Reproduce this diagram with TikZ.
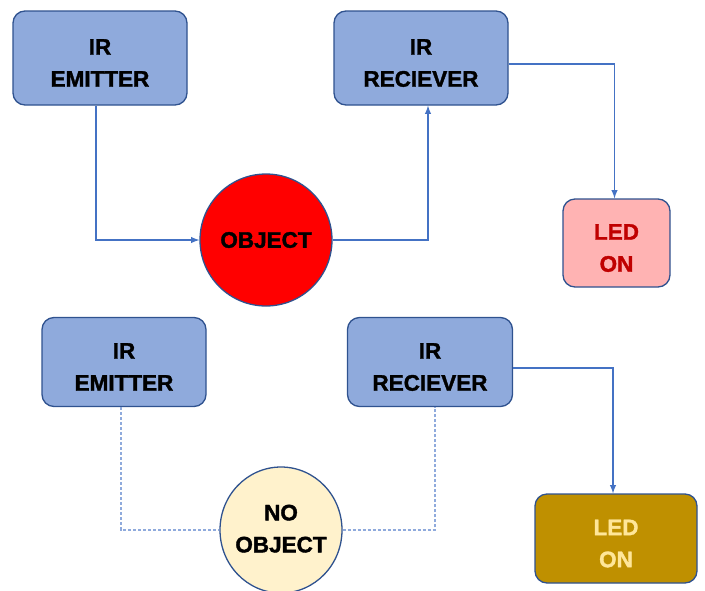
\documentclass[tikz,border=0pt]{standalone}
\usepackage{fontspec}
\setmainfont{Liberation Sans}[BoldFeatures={FakeBold=1.5}]
\usepackage{xcolor}
\usetikzlibrary{arrows}
\usetikzlibrary{shapes.geometric}

\definecolor{boxblue}{HTML}{8FAADC}
\definecolor{edgeblue}{HTML}{2F528F}
\definecolor{lineblue}{HTML}{4472C4}
\definecolor{ledpink}{HTML}{FFB3B3}
\definecolor{leddark}{HTML}{C00000}
\definecolor{ledgold}{HTML}{BF9000}
\definecolor{ledpale}{HTML}{FFE699}
\definecolor{noobjfill}{HTML}{FFF2CC}

% two centred lines, set a little below the box centre
\newcommand{\twolines}[2]{\begin{tabular}{@{}c@{}}\rule{0pt}{35pt}#1\\#2\end{tabular}}

\tikzset{
  irbox/.style={draw=edgeblue,line width=1.3pt,fill=boxblue,rounded corners=12pt,
    font=\fontsize{22.5}{32}\selectfont\bfseries},
  objcirc/.style={circle,draw=edgeblue,line width=1.3pt,fill=red,
    font=\fontsize{22.5}{32}\selectfont\bfseries},
  flow/.style={-latex,draw=lineblue,line width=1.8pt},
  noflow/.style={draw=boxblue,line width=1.4pt,dash pattern=on 3pt off 2pt}
}

\begin{document}
\begin{tikzpicture}[x=1pt,y=-1pt]
        \useasboundingbox (0,0) rectangle (705,590);
        % with object
        \node[irbox,minimum width=174pt,minimum height=94pt] (emitA) at (100,58) {\twolines{IR}{EMITTER}};
        \node[irbox,minimum width=174pt,minimum height=94pt] (recA) at (421,58) {\twolines{IR}{RECIEVER}};
        \node[objcirc,minimum size=132pt] (objA) at (266,240) {OBJECT};
        \node[irbox,fill=ledpink,text=leddark,minimum width=107pt,minimum height=88pt] (ledA) at (616.5,243) {\twolines{LED}{ON}};
        \draw[flow] ([xshift=-4pt]emitA.south) |- (objA.west);
        \draw[flow] (objA.east) -| ([xshift=7pt]recA.south);
        \draw[flow] ([yshift=-6pt]recA.east) -| ([xshift=-2pt]ledA.north);
        % without object
        \node[irbox,minimum width=164pt,minimum height=89pt] (emitB) at (124,362) {\twolines{IR}{EMITTER}};
        \node[irbox,minimum width=165pt,minimum height=89pt] (recB) at (430,362) {\twolines{IR}{RECIEVER}};
        \node[objcirc,ellipse,fill=noobjfill,inner sep=0pt,minimum width=122pt,minimum height=126pt] (noobj) at (281,530)
          {\makebox[50pt]{\begin{tabular}{@{}c@{}}NO\\OBJECT\end{tabular}}};
        \node[irbox,fill=ledgold,text=ledpale,minimum width=162pt,minimum height=89pt] (ledB) at (616,538.5) {\twolines{LED}{ON}};
        \draw[noflow] ([xshift=-3pt]emitB.south) |- (noobj.west);
        \draw[noflow] (noobj.east) -| ([xshift=5pt]recB.south);
        \draw[flow] ([yshift=-6pt]recB.east) -| ([xshift=-3pt]ledB.north);
    \end{tikzpicture}
\end{document}
